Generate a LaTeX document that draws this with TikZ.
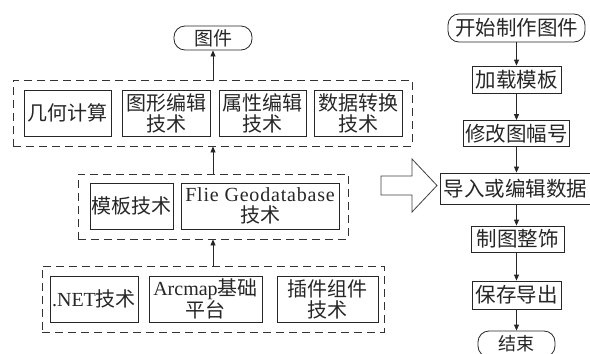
\documentclass[tikz,border=0pt]{standalone}
\usepackage{fontspec}
\setmainfont{Liberation Serif}
\newfontfamily\cjk{Noto Sans CJK SC}
\usetikzlibrary{arrows.meta}
\tikzset{
  box/.style={draw=black!85, line width=0.8pt, inner sep=0pt, align=center, minimum height=46pt, text=black!85},
  fbox/.style={draw=black!85, line width=0.8pt, inner sep=0pt, align=center, text=black!85, font=\fontsize{20.5}{22}\selectfont},
  term/.style={fbox, rounded corners=11pt},
  grp/.style={draw=black!80, line width=0.8pt, dash pattern=on 8pt off 5pt, inner sep=0pt},
  arr/.style={draw=black!85, line width=0.8pt, -{Triangle[length=6pt,width=5pt]}},
  lat/.style={font=\fontsize{20}{21}\selectfont},
}
\begin{document}
\begin{tikzpicture}[x=1pt,y=-1pt,font=\fontsize{20}{21}\selectfont]
\useasboundingbox (0,0) rectangle (590,354);
\clip (0,0) rectangle (590,354);
% left part
\node[term, minimum width=78pt, minimum height=24pt, font=\fontsize{19}{21}\selectfont] (tj) at (213,38) {\cjk 图件};
\node[grp, minimum width=399pt, minimum height=66pt] (g1) at (212.5,113) {};
\node[box, minimum width=87pt] (a1) at (67.5,113) {\cjk 几何计算};
\node[box, minimum width=88pt] (a2) at (166,113) {\cjk 图形编辑\\\cjk 技术};
\node[box, minimum width=87pt] (a3) at (262.5,113) {\cjk 属性编辑\\\cjk 技术};
\node[box, minimum width=88pt] (a4) at (358,113) {\cjk 数据转换\\\cjk 技术};
\node[grp, minimum width=270pt, minimum height=65pt] (g2) at (213,206.5) {};
\node[box, minimum width=83pt] (b1) at (131.5,206) {\cjk 模板技术};
\node[box, minimum width=158pt] (b2) at (260,206) {\addfontfeatures{LetterSpace=4}Flie Geodatabase\\\cjk 技术};
\node[grp, minimum width=342pt, minimum height=66pt] (g3) at (213,299) {};
\node[box, minimum width=88pt] (c1) at (94,299) {.NET{\cjk 技术}};
\node[box, minimum width=113pt] (c2) at (205.5,299) {Arcmap{\cjk 基础}\\\cjk 平台};
\node[box, minimum width=101pt] (c3) at (327.5,299) {\cjk 插件组件\\\cjk 技术};
\draw[arr] (g1.north -| tj.south) -- (tj.south);
\draw[arr] (g2.north -| tj.south) -- (g1.south -| tj.south);
\draw[arr] (g3.north -| tj.south) -- (g2.south -| tj.south);
% hollow arrow
\draw[draw=black!75, line width=0.8pt, fill=white] (381,176) -- (412,176) -- (412,159) -- (437,185.5) -- (412,212) -- (412,195) -- (381,195) -- cycle;
% right flowchart
\node[term, minimum width=137pt, minimum height=28pt] (r0) at (516.5,28) {\cjk 开始制作图件};
\node[fbox, minimum width=89pt, minimum height=27pt] (r1) at (516.5,79.5) {\cjk 加载模板};
\node[fbox, minimum width=106pt, minimum height=26pt] (r2) at (516.5,133.5) {\cjk 修改图幅号};
\node[fbox, minimum width=150pt, minimum height=31pt] (r3) at (515.5,188.5) {\cjk 导入或编辑数据};
\node[fbox, minimum width=93pt, minimum height=26pt] (r4) at (517.5,239) {\cjk 制图整饰};
\node[fbox, minimum width=89pt, minimum height=28pt] (r5) at (516.5,295) {\cjk 保存导出};
\node[term, minimum width=77pt, minimum height=26pt, font=\fontsize{18}{20}\selectfont] (r6) at (516.5,344) {\cjk 结束};
\draw[arr] (r0.south) -- (r1.north);
\draw[arr] (r1.south) -- (r2.north);
\draw[arr] (r2.south) -- (r3.north -| r2.south);
\draw[arr] (r3.south -| r5.north) -- (r4.north -| r5.north);
\draw[arr] (r4.south -| r5.north) -- (r5.north);
\draw[arr] (r5.south) -- (r6.north);
\end{tikzpicture}
\end{document}
